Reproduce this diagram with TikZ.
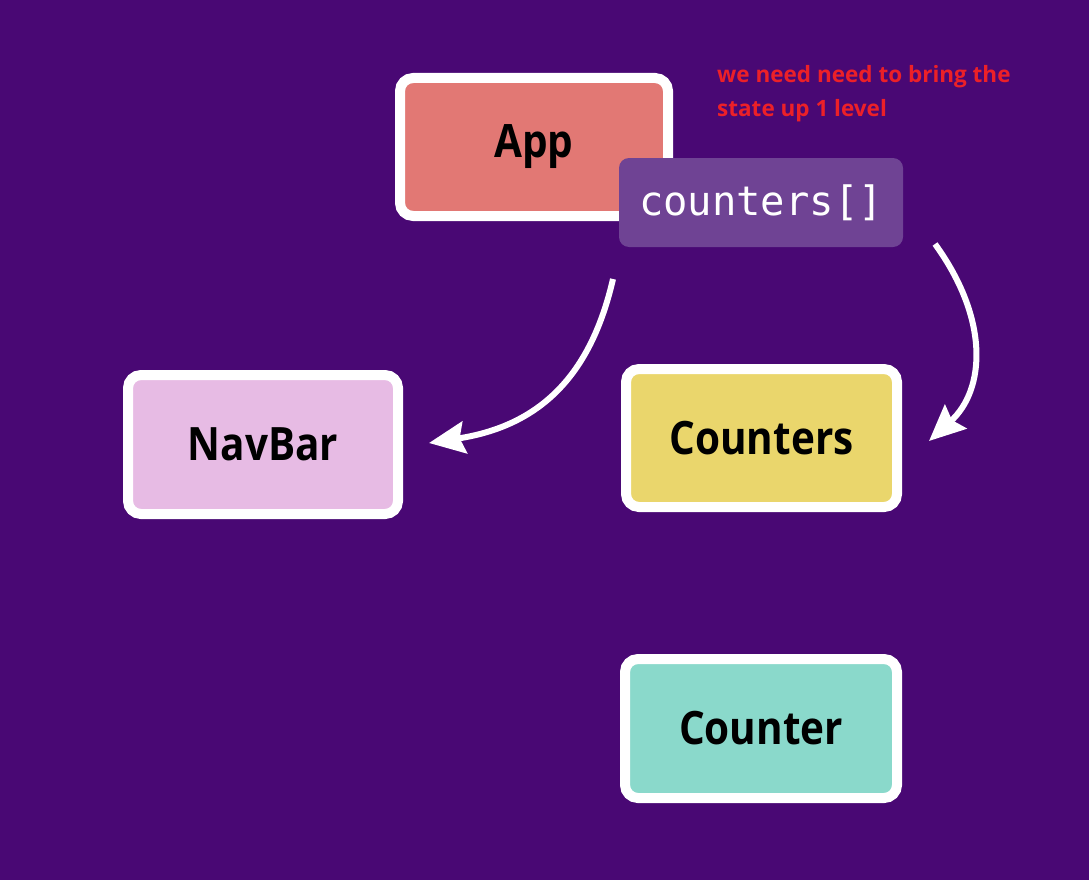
\documentclass[tikz,border=0pt]{standalone}
\usepackage{fontspec}
\setmainfont{Open Sans}
\newfontfamily\boxfont[FakeStretch=0.88]{Open Sans Bold}
\newfontfamily\notefont{Open Sans Bold}
\newfontfamily\codefont{DejaVu Sans Mono}
\usetikzlibrary{arrows.meta}
\definecolor{bgpurple}{RGB}{73,8,116}
\definecolor{appfill}{RGB}{226,120,116}
\definecolor{statefill}{RGB}{111,67,148}
\definecolor{navfill}{RGB}{231,187,228}
\definecolor{ctrsfill}{RGB}{234,214,108}
\definecolor{ctrfill}{RGB}{138,217,203}
\definecolor{notered}{RGB}{236,32,40}
\tikzset{
  comp/.style={draw=white, line width=10pt, rounded corners=13pt,
    font=\boxfont\fontsize{46}{52}\selectfont, text=black, inner sep=0pt},
  statebox/.style={fill=statefill, rounded corners=10pt, inner sep=0pt,
    minimum width=284pt, minimum height=89pt,
    font=\codefont\fontsize{40.5}{46}\selectfont, text=white},
  flow/.style={draw=white, line width=6pt,
    -{Stealth[length=36pt,width=32pt,inset=5pt]}},
  note/.style={text=notered, font=\notefont\fontsize{22.5}{34}\selectfont,
    align=left, anchor=north west, inner sep=0pt}
}
\begin{document}
\begin{tikzpicture}[x=1pt,y=-1pt]
\fill[bgpurple] (0,0) rectangle (1089,880);
\useasboundingbox (0,0) rectangle (1089,880);

\node[comp, fill=appfill, minimum width=268pt, minimum height=138pt] (app) at (534,147) {App};
\node[statebox] (state) at (761,202.5) {counters[]};
\node[comp, fill=navfill, minimum width=270pt, minimum height=139pt] (nav) at (263,444.5) {NavBar};
\node[comp, fill=ctrsfill, minimum width=271pt, minimum height=138pt] (ctrs) at (761.5,438) {Counters};
\node[comp, fill=ctrfill, minimum width=272pt, minimum height=139pt] (ctr) at (761,728.5) {Counter};

\node[note] (memo) at (717,65) {we need need to bring the\\state up 1 level};

\coordinate (l1) at (613,279);
\coordinate (l2) at (429,443);
\coordinate (r1) at (935,244);
\coordinate (r2) at (929,441);
\draw[flow] (l1) .. controls (592,370) and (545,425) .. (l2);
\draw[flow] (r1) .. controls (990,320) and (985,390) .. (r2);
\end{tikzpicture}
\end{document}
